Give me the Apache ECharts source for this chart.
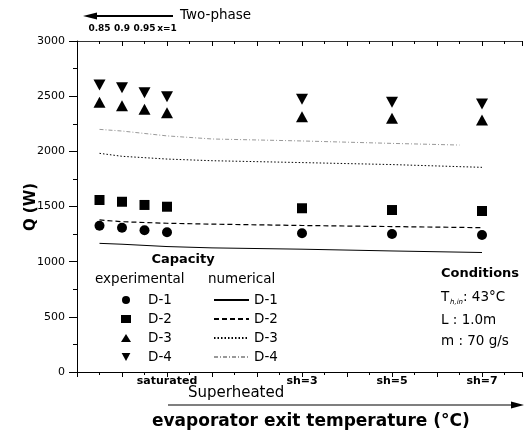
<!DOCTYPE html>
<html>
<head>
<meta charset="utf-8">
<script src="https://cdn.jsdelivr.net/npm/echarts@6/dist/echarts.min.js"></script>
<style>html,body{margin:0;padding:0;background:#fff}#c{width:525px;height:435px}</style>
</head>
<body>
<div id="c"></div>
<script>
// ---- data ----
const expX = [0.5, 1, 1.5, 2, 5, 7, 9];
const expD1 = [1326, 1308, 1284, 1266, 1257, 1251, 1242];
const expD2 = [1559, 1543, 1514, 1498, 1484, 1468, 1459];
const expD3 = [2444, 2414, 2381, 2350, 2314, 2299, 2284];
const expD4 = [2601, 2577, 2532, 2495, 2471, 2444, 2429];

const numX = [0.5, 1, 2, 3, 5, 7, 9];
const numD1 = [1166, 1158, 1137, 1125, 1113, 1097, 1083];
const numD2 = [1378, 1362, 1348, 1340, 1328, 1318, 1308];
const numD3 = [1982, 1955, 1930, 1915, 1898, 1880, 1855];
const numX4 = [0.5, 1, 2, 3, 5, 7, 8.5];
const numD4 = [2199, 2184, 2140, 2112, 2094, 2072, 2057];

const bottomTickValues = [2, 5, 7, 9];
const bottomTickLabels = ['saturated', 'sh=3', 'sh=5', 'sh=7'];
const topTickValues = [0.5, 1, 1.5, 2];
const topTickLabels = ['0.85', '0.9', '0.95', 'x=1'];

const FONT = 'DejaVu Sans';
const pair = (xs, ys) => xs.map((x, i) => [x, ys[i]]);
const lookup = (vals, labels) => v => {
  const i = vals.findIndex(t => Math.abs(t - v) < 1e-6);
  return i >= 0 ? labels[i] : '';
};

const chart = echarts.init(document.getElementById('c'), null, {renderer: 'canvas'});

const scatterBase = {type: 'scatter', xAxisIndex: 0, yAxisIndex: 0, itemStyle: {color: '#000', opacity: 1}, z: 5};
const lineBase = {type: 'line', xAxisIndex: 0, yAxisIndex: 0, showSymbol: false, symbol: 'none', smooth: false, z: 3,
  itemStyle: {color: '#000', opacity: 0}};

const xBase = {type: 'value', min: 0, max: 9.9, interval: 1, splitLine: {show: false}};

const option = {
  animation: false,
  backgroundColor: '#fff',
  textStyle: {fontFamily: FONT, color: '#000'},
  grid: {left: 77, width: 445.5, top: 41, height: 331, containLabel: false},
  xAxis: [
    Object.assign({}, xBase, {
      position: 'bottom',
      axisLine: {show: true, lineStyle: {color: '#000', width: 1}},
      axisTick: {show: true, inside: false, length: 5, lineStyle: {color: '#000'}},
      minorTick: {show: true, splitNumber: 2, length: 3, lineStyle: {color: '#000'}},
      axisLabel: {show: true, margin: 4, fontFamily: FONT, fontSize: 11, fontWeight: 'bold', color: '#000',
        showMinLabel: true, showMaxLabel: false,
        formatter: lookup(bottomTickValues, bottomTickLabels)}
    }),
    Object.assign({}, xBase, {
      position: 'top',
      axisLine: {show: true, onZero: false, lineStyle: {color: '#333', width: 1}},
      axisTick: {show: true, inside: true, length: 5, lineStyle: {color: '#000'}},
      minorTick: {show: true, splitNumber: 2, length: 3, lineStyle: {color: '#000'}},
      axisLabel: {show: false}
    }),
    Object.assign({}, xBase, {
      position: 'top', interval: 0.5,
      axisLine: {show: false}, axisTick: {show: false},
      axisLabel: {show: true, margin: 8, fontFamily: FONT, fontSize: 9, fontWeight: 'bold', color: '#000',
        showMinLabel: true, showMaxLabel: false,
        formatter: lookup(topTickValues, topTickLabels)}
    })
  ],
  yAxis: [{
    type: 'value', min: 0, max: 3000, interval: 500,
    axisLine: {show: true, lineStyle: {color: '#000', width: 1}},
    axisTick: {show: true, inside: false, length: 8, lineStyle: {color: '#000'}},
    minorTick: {show: true, splitNumber: 2, length: 4, lineStyle: {color: '#000'}},
    splitLine: {show: false},
    axisLabel: {margin: 12, fontFamily: FONT, fontSize: 11, color: '#000', formatter: v => String(v)}
  }],
  legend: [
    {
      data: [
        {name: 'exp D-1'},
        {name: 'exp D-2'},
        {name: 'exp D-3'},
        {name: 'exp D-4', icon: 'path://M0,0 L12,0 L6,11 Z'}
      ],
      orient: 'vertical', left: 116, top: 288, itemWidth: 10, itemHeight: 8, itemGap: 5,
      textStyle: {fontFamily: FONT, fontSize: 13.5, color: '#000', lineHeight: 14, padding: [0, 0, 0, 12]},
      formatter: n => n.replace('exp ', ''),
      selectedMode: false
    },
    {
      data: ['num D-1', 'num D-2', 'num D-3', 'num D-4'],
      orient: 'vertical', left: 208, top: 288, itemWidth: 35, itemHeight: 8, itemGap: 5,
      textStyle: {fontFamily: FONT, fontSize: 13.5, color: '#000', lineHeight: 14},
      formatter: n => n.replace('num ', ''),
      selectedMode: false
    }
  ],
  series: [
    Object.assign({}, lineBase, {name: 'num D-1', data: pair(numX, numD1), lineStyle: {color: '#000', width: 1, type: 'solid'}}),
    Object.assign({}, lineBase, {name: 'num D-2', data: pair(numX, numD2), lineStyle: {color: '#000', width: 1.2, type: [5, 3]}}),
    Object.assign({}, lineBase, {name: 'num D-3', data: pair(numX, numD3), lineStyle: {color: '#000', width: 1, type: [1.5, 2]}}),
    Object.assign({}, lineBase, {name: 'num D-4', data: pair(numX4, numD4), lineStyle: {color: '#999', width: 1, type: [4, 2, 1, 2]}}),
    Object.assign({}, scatterBase, {name: 'exp D-1', symbol: 'circle', symbolSize: 10, data: pair(expX, expD1)}),
    Object.assign({}, scatterBase, {name: 'exp D-2', symbol: 'rect', symbolSize: 10, data: pair(expX, expD2)}),
    Object.assign({}, scatterBase, {name: 'exp D-3', symbol: 'triangle', symbolSize: [12, 11], data: pair(expX, expD3)}),
    Object.assign({}, scatterBase, {name: 'exp D-4', symbol: 'triangle', symbolRotate: 180, symbolSize: [12, 11], data: pair(expX, expD4)})
  ],
  graphic: [
    // y axis title
    {type: 'text', x: 31, y: 207, rotation: Math.PI / 2, style: {text: 'Q (W)', fontFamily: FONT, fontSize: 15, fontWeight: 'bold', fill: '#000', align: 'center', verticalAlign: 'middle'}},
    // top arrow "Two-phase"
    {type: 'line', shape: {x1: 92, y1: 16, x2: 173, y2: 16}, style: {stroke: '#000', lineWidth: 2}},
    {type: 'polygon', shape: {points: [[83, 16], [97, 12.5], [97, 19.5]]}, style: {fill: '#000'}},
    {type: 'text', x: 180, y: 15, style: {text: 'Two-phase', fontFamily: FONT, fontSize: 13.5, fill: '#000', verticalAlign: 'middle'}},
    // bottom arrow "Superheated"
    {type: 'text', x: 188, y: 393, style: {text: 'Superheated', fontFamily: FONT, fontSize: 15, fill: '#000', verticalAlign: 'middle'}},
    {type: 'line', shape: {x1: 168, y1: 405, x2: 513, y2: 405}, style: {stroke: '#000', lineWidth: 1.2}},
    {type: 'polygon', shape: {points: [[524, 405], [511, 401.5], [511, 408.5]]}, style: {fill: '#000'}},
    {type: 'text', x: 152, y: 422, style: {text: 'evaporator exit temperature (°C)', fontFamily: FONT, fontSize: 17, fontWeight: 'bold', fill: '#000', verticalAlign: 'middle'}},
    // legend headers
    {type: 'text', x: 183, y: 260, style: {text: 'Capacity', fontFamily: FONT, fontSize: 13, fontWeight: 'bold', fill: '#000', align: 'center', verticalAlign: 'middle'}},
    {type: 'text', x: 95, y: 279, style: {text: 'experimental', fontFamily: FONT, fontSize: 13.5, fill: '#000', verticalAlign: 'middle'}},
    {type: 'text', x: 208, y: 279, style: {text: 'numerical', fontFamily: FONT, fontSize: 13.5, fill: '#000', verticalAlign: 'middle'}},
    // conditions
    {type: 'text', x: 441, y: 274, style: {text: 'Conditions', fontFamily: FONT, fontSize: 13, fontWeight: 'bold', fill: '#000', verticalAlign: 'middle'}},
    {type: 'text', x: 441, y: 297, style: {text: 'T', fontFamily: FONT, fontSize: 13.5, fill: '#000', verticalAlign: 'middle'}},
    {type: 'text', x: 450, y: 302, style: {text: 'h,in', fontFamily: FONT, fontSize: 7, fontStyle: 'italic', fill: '#000', verticalAlign: 'middle'}},
    {type: 'text', x: 463, y: 297, style: {text: ': 43°C', fontFamily: FONT, fontSize: 13.5, fill: '#000', verticalAlign: 'middle'}},
    {type: 'text', x: 441, y: 320, style: {text: 'L : 1.0m', fontFamily: FONT, fontSize: 13.5, fill: '#000', verticalAlign: 'middle'}},
    {type: 'text', x: 441, y: 341, style: {text: 'm : 70 g/s', fontFamily: FONT, fontSize: 13.5, fill: '#000', verticalAlign: 'middle'}}
  ]
};
chart.setOption(option);
</script>
</body>
</html>
